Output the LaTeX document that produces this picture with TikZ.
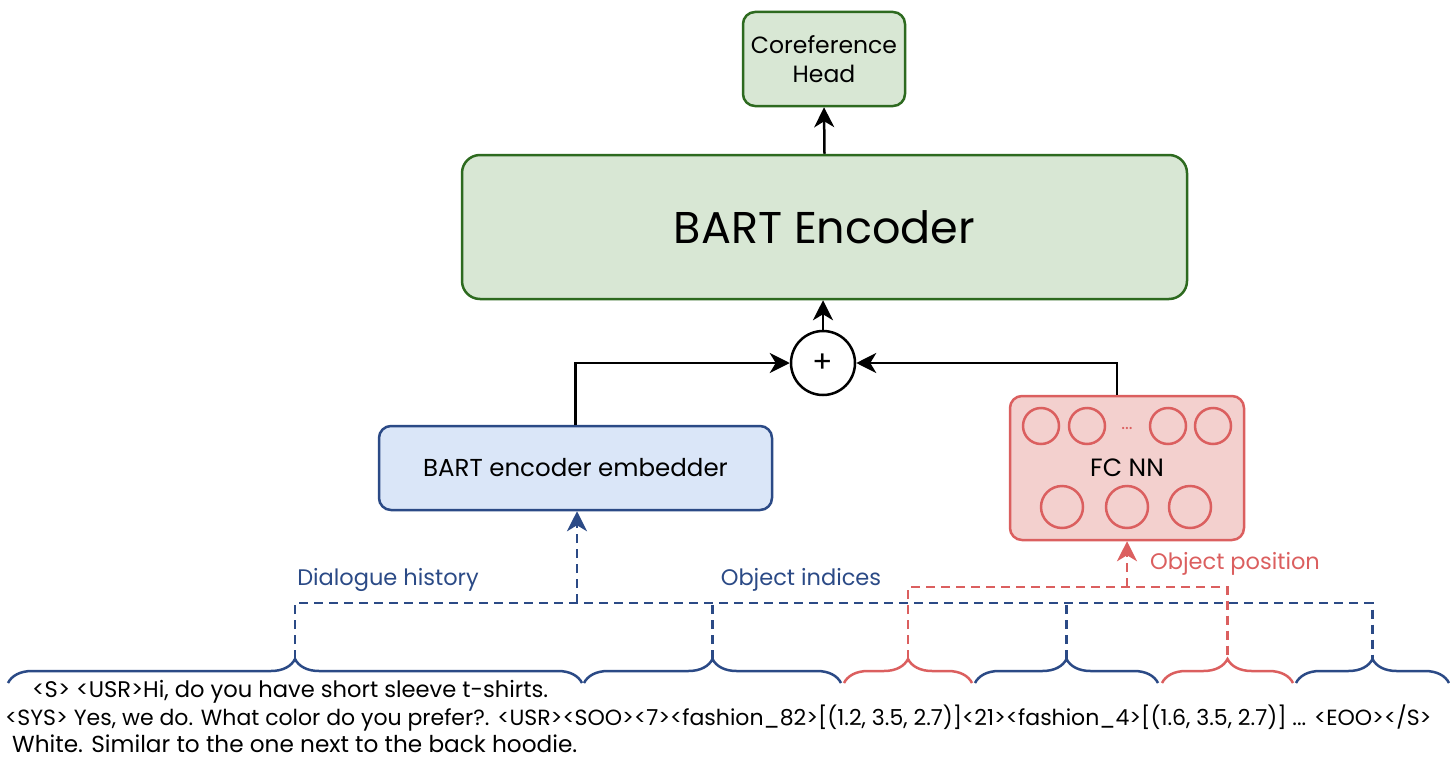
\documentclass[tikz,border=0pt]{standalone}
\usepackage{fontspec}
\setmainfont{Poppins}
\usetikzlibrary{arrows.meta,decorations.pathreplacing,calc}
\definecolor{gfill}{HTML}{D8E7D4}
\definecolor{gdraw}{HTML}{2D6A1F}
\definecolor{bfill}{HTML}{DAE6F8}
\definecolor{bdraw}{HTML}{2B4A86}
\definecolor{rfill}{HTML}{F3D0CE}
\definecolor{rdraw}{HTML}{DB5F5F}
\tikzset{
  box/.style={draw, rounded corners=12pt, line width=2.5pt, align=center, inner sep=0pt},
  gbox/.style={box, fill=gfill, draw=gdraw},
  tip/.style={-{Stealth[length=20pt,width=20pt,inset=6pt]}},
  conn/.style={line width=2.5pt, tip},
  bdash/.style={draw=bdraw, line width=2.7pt, dash pattern=on 9pt off 6pt},
  rdash/.style={draw=rdraw, line width=2.7pt, dash pattern=on 9pt off 6pt},
  bbrace/.style={draw=bdraw, line width=2.5pt, decorate, decoration={brace, amplitude=24pt}},
  rbrace/.style={draw=rdraw, line width=2.5pt, decorate, decoration={brace, amplitude=24pt}},
  neuron/.style={circle, draw=rdraw, line width=2.5pt, inner sep=0pt},
  lbl/.style={font=\fontsize{22.5}{26}\selectfont, inner sep=0pt},
  tline/.style={font=\fontsize{22}{26}\selectfont, inner sep=0pt, anchor=base west},
}
\begin{document}
\begin{tikzpicture}[x=1pt,y=-1pt]
\useasboundingbox (0,0) rectangle (1450,760);
% boxes
\node[gbox, minimum width=162pt, minimum height=94pt, font=\fontsize{23.5}{29}\selectfont] (coref) at (824,59) {Coreference\\Head};
\node[gbox, rounded corners=18pt, minimum width=725pt, minimum height=144pt, font=\fontsize{44.5}{50}\selectfont] (enc) at (824.5,227) {BART Encoder};
\node[circle, draw, line width=2.5pt, minimum size=64pt, inner sep=0pt, font=\fontsize{30}{32}\selectfont] (plus) at (823,363) {+};
\node[box, fill=bfill, draw=bdraw, minimum width=393pt, minimum height=84pt, font=\fontsize{24.5}{28}\selectfont] (emb) at (575.5,468) {BART encoder embedder};
\node[box, fill=rfill, draw=rdraw, minimum width=234pt, minimum height=144pt, font=\fontsize{25}{28}\selectfont] (fc) at (1127,468) {FC NN};
% neurons
\node[neuron, minimum size=36pt] (n1) at (1041,426) {};
\node[neuron, minimum size=36pt] (n2) at (1087,426) {};
\node[neuron, minimum size=36pt] (n3) at (1168,426) {};
\node[neuron, minimum size=36pt] (n4) at (1213,426) {};
\node[text=rdraw, font=\fontsize{18}{20}\selectfont, inner sep=0pt] (ndots) at (1127,428) {...};
\node[neuron, minimum size=42pt] (n5) at (1062,507) {};
\node[neuron, minimum size=42pt] (n6) at (1127,507) {};
\node[neuron, minimum size=42pt] (n7) at (1190,507) {};
% solid connectors
\draw[conn] (enc.north) -- (coref.south);
\draw[conn] (plus.north) -- (plus.north |- enc.south);
\draw[conn] (emb.north) |- (plus.west);
\draw[conn] ([xshift=-10pt]fc.north) |- (plus.east);
% braces
\coordinate (bA1) at (8,683);   \coordinate (bA2) at (582,683);
\coordinate (bB1) at (584,683); \coordinate (bB2) at (841,683);
\coordinate (rC1) at (844,683); \coordinate (rC2) at (972,683);
\coordinate (bD1) at (975,683); \coordinate (bD2) at (1158,683);
\coordinate (rE1) at (1162,683); \coordinate (rE2) at (1293,683);
\coordinate (bF1) at (1296,683); \coordinate (bF2) at (1449,683);
\draw[bbrace] (bA1) -- (bA2);
\draw[bbrace] (bB1) -- (bB2);
\draw[rbrace] (rC1) -- (rC2);
\draw[bbrace] (bD1) -- (bD2);
\draw[rbrace] (rE1) -- (rE2);
\draw[bbrace] (bF1) -- (bF2);
% dashed links
\coordinate (tA) at (295,659);
\coordinate (tB) at (712.5,659);
\coordinate (tC) at (908,659);
\coordinate (tD) at (1066.5,659);
\coordinate (tE) at (1227.5,659);
\coordinate (tF) at (1372.5,659);
\coordinate (hist) at (577,603);
\coordinate (pos) at (1127,587);
\draw[bdash] (tA) -- (tA |- hist) -- (tF |- hist) -- (tF);
\draw[bdash] (tB) -- (tB |- hist);
\draw[bdash] (tD) -- (tD |- hist);
\draw[rdash] (tC) -- (tC |- pos) -- (tE |- pos) -- (tE);
\draw[bdash, tip] (hist) -- (hist |- emb.south);
\draw[rdash, tip] (pos) -- (pos |- fc.south);
% labels
\node[lbl, text=bdraw] (lhist) at (388,580) {Dialogue history};
\node[lbl, text=bdraw] (lidx) at (801,580) {Object indices};
\node[lbl, text=rdraw] (lpos) at (1235,564) {Object position};
% input text
\node[tline, font=\fontsize{22.6}{26}\selectfont] (t1) at (32,697) {<S> <USR>Hi, do you have short sleeve t-shirts.};
\node[tline] (t2) at (5,725) {<SYS> Yes, we do. What color do you prefer?. <USR><SOO><7><fashion\_82>[(1.2, 3.5, 2.7)]<21><fashion\_4>[(1.6, 3.5, 2.7)] ... <EOO></S>};
\node[tline, font=\fontsize{23.2}{26}\selectfont] (t3) at (12,752) {White. Similar to the one next to the back hoodie.};
\end{tikzpicture}
\end{document}
